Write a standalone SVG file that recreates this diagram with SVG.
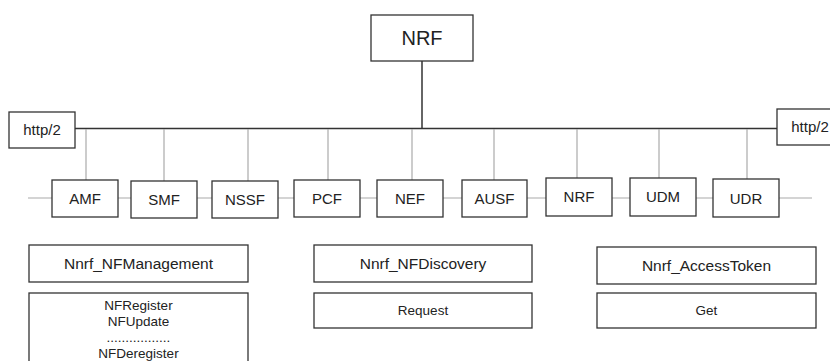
<svg xmlns="http://www.w3.org/2000/svg" width="830" height="361" viewBox="0 0 830 361">
<style>
.box{fill:#fff;stroke:#333;stroke-width:1.3}
.t{font-family:"Liberation Sans",Arial,sans-serif;fill:#222;text-anchor:middle}
.nf{font-size:15px}
.svc{font-size:15.5px}
.op{font-size:13.5px}
.bus{stroke:#333;stroke-width:1.5;fill:none}
.drop{stroke:#aaa;stroke-width:1.2;fill:none}
</style>
<rect width="830" height="361" fill="#fff"/>
<g id="connectors">
<line class="bus" x1="422" y1="61" x2="422" y2="128.5"/>
<line class="bus" x1="75" y1="128.5" x2="777" y2="128.5"/>
<line class="drop" x1="28" y1="198" x2="812" y2="198"/>
<line class="drop" x1="86" y1="129" x2="86" y2="180"/>
<line class="drop" x1="164" y1="129" x2="164" y2="181"/>
<line class="drop" x1="248" y1="129" x2="248" y2="181"/>
<line class="drop" x1="328" y1="129" x2="328" y2="180"/>
<line class="drop" x1="412" y1="129" x2="412" y2="180"/>
<line class="drop" x1="494" y1="129" x2="494" y2="180"/>
<line class="drop" x1="577" y1="129" x2="577" y2="178"/>
<line class="drop" x1="659" y1="129" x2="659" y2="178"/>
<line class="drop" x1="747" y1="129" x2="747" y2="179"/>
</g>
<g id="nrf-top"><rect class="box" x="371" y="15" width="102" height="46"/><text class="t" x="422" y="45" font-size="20">NRF</text></g>
<g id="http-left"><rect class="box" x="9" y="112" width="66" height="36"/><text class="t nf" x="42" y="135">http/2</text></g>
<g id="http-right"><rect class="box" x="777" y="109" width="70" height="36"/><text class="t nf" x="810" y="132">http/2</text></g>
<g id="amf"><rect class="box" x="52" y="180" width="66" height="37"/><text class="t nf" x="85" y="204">AMF</text></g>
<g id="smf"><rect class="box" x="131" y="181" width="66" height="37"/><text class="t nf" x="164" y="205">SMF</text></g>
<g id="nssf"><rect class="box" x="212" y="181" width="66" height="37"/><text class="t nf" x="245" y="205">NSSF</text></g>
<g id="pcf"><rect class="box" x="294" y="180" width="66" height="37"/><text class="t nf" x="327" y="204">PCF</text></g>
<g id="nef"><rect class="box" x="377" y="180" width="66" height="37"/><text class="t nf" x="410" y="204">NEF</text></g>
<g id="ausf"><rect class="box" x="462" y="180" width="65" height="37"/><text class="t nf" x="494.5" y="204">AUSF</text></g>
<g id="nrf"><rect class="box" x="546" y="178" width="66" height="38"/><text class="t nf" x="579" y="202">NRF</text></g>
<g id="udm"><rect class="box" x="630" y="178" width="66" height="38"/><text class="t nf" x="663" y="202">UDM</text></g>
<g id="udr"><rect class="box" x="713" y="179" width="66" height="38"/><text class="t nf" x="746" y="204">UDR</text></g>
<g id="nfmanagement"><rect class="box" x="29" y="245" width="219" height="37"/><text class="t svc" x="138.5" y="269">Nnrf_NFManagement</text></g>
<g id="nfmanagement-ops"><rect class="box" x="29" y="293" width="219" height="80"/>
<text class="t op" x="138.5" y="310">NFRegister</text>
<text class="t op" x="138.5" y="326">NFUpdate</text>
<text class="t op" x="138.5" y="342">.................</text>
<text class="t op" x="138.5" y="358">NFDeregister</text></g>
<g id="nfdiscovery"><rect class="box" x="314" y="245" width="218" height="37"/><text class="t svc" x="423" y="269">Nnrf_NFDiscovery</text></g>
<g id="nfdiscovery-ops"><rect class="box" x="314" y="293" width="218" height="35"/><text class="t op" x="423" y="315">Request</text></g>
<g id="accesstoken"><rect class="box" x="597" y="247" width="219" height="37"/><text class="t svc" x="706.5" y="271">Nnrf_AccessToken</text></g>
<g id="accesstoken-ops"><rect class="box" x="597" y="293" width="219" height="35"/><text class="t op" x="706.5" y="315">Get</text></g>
</svg>
